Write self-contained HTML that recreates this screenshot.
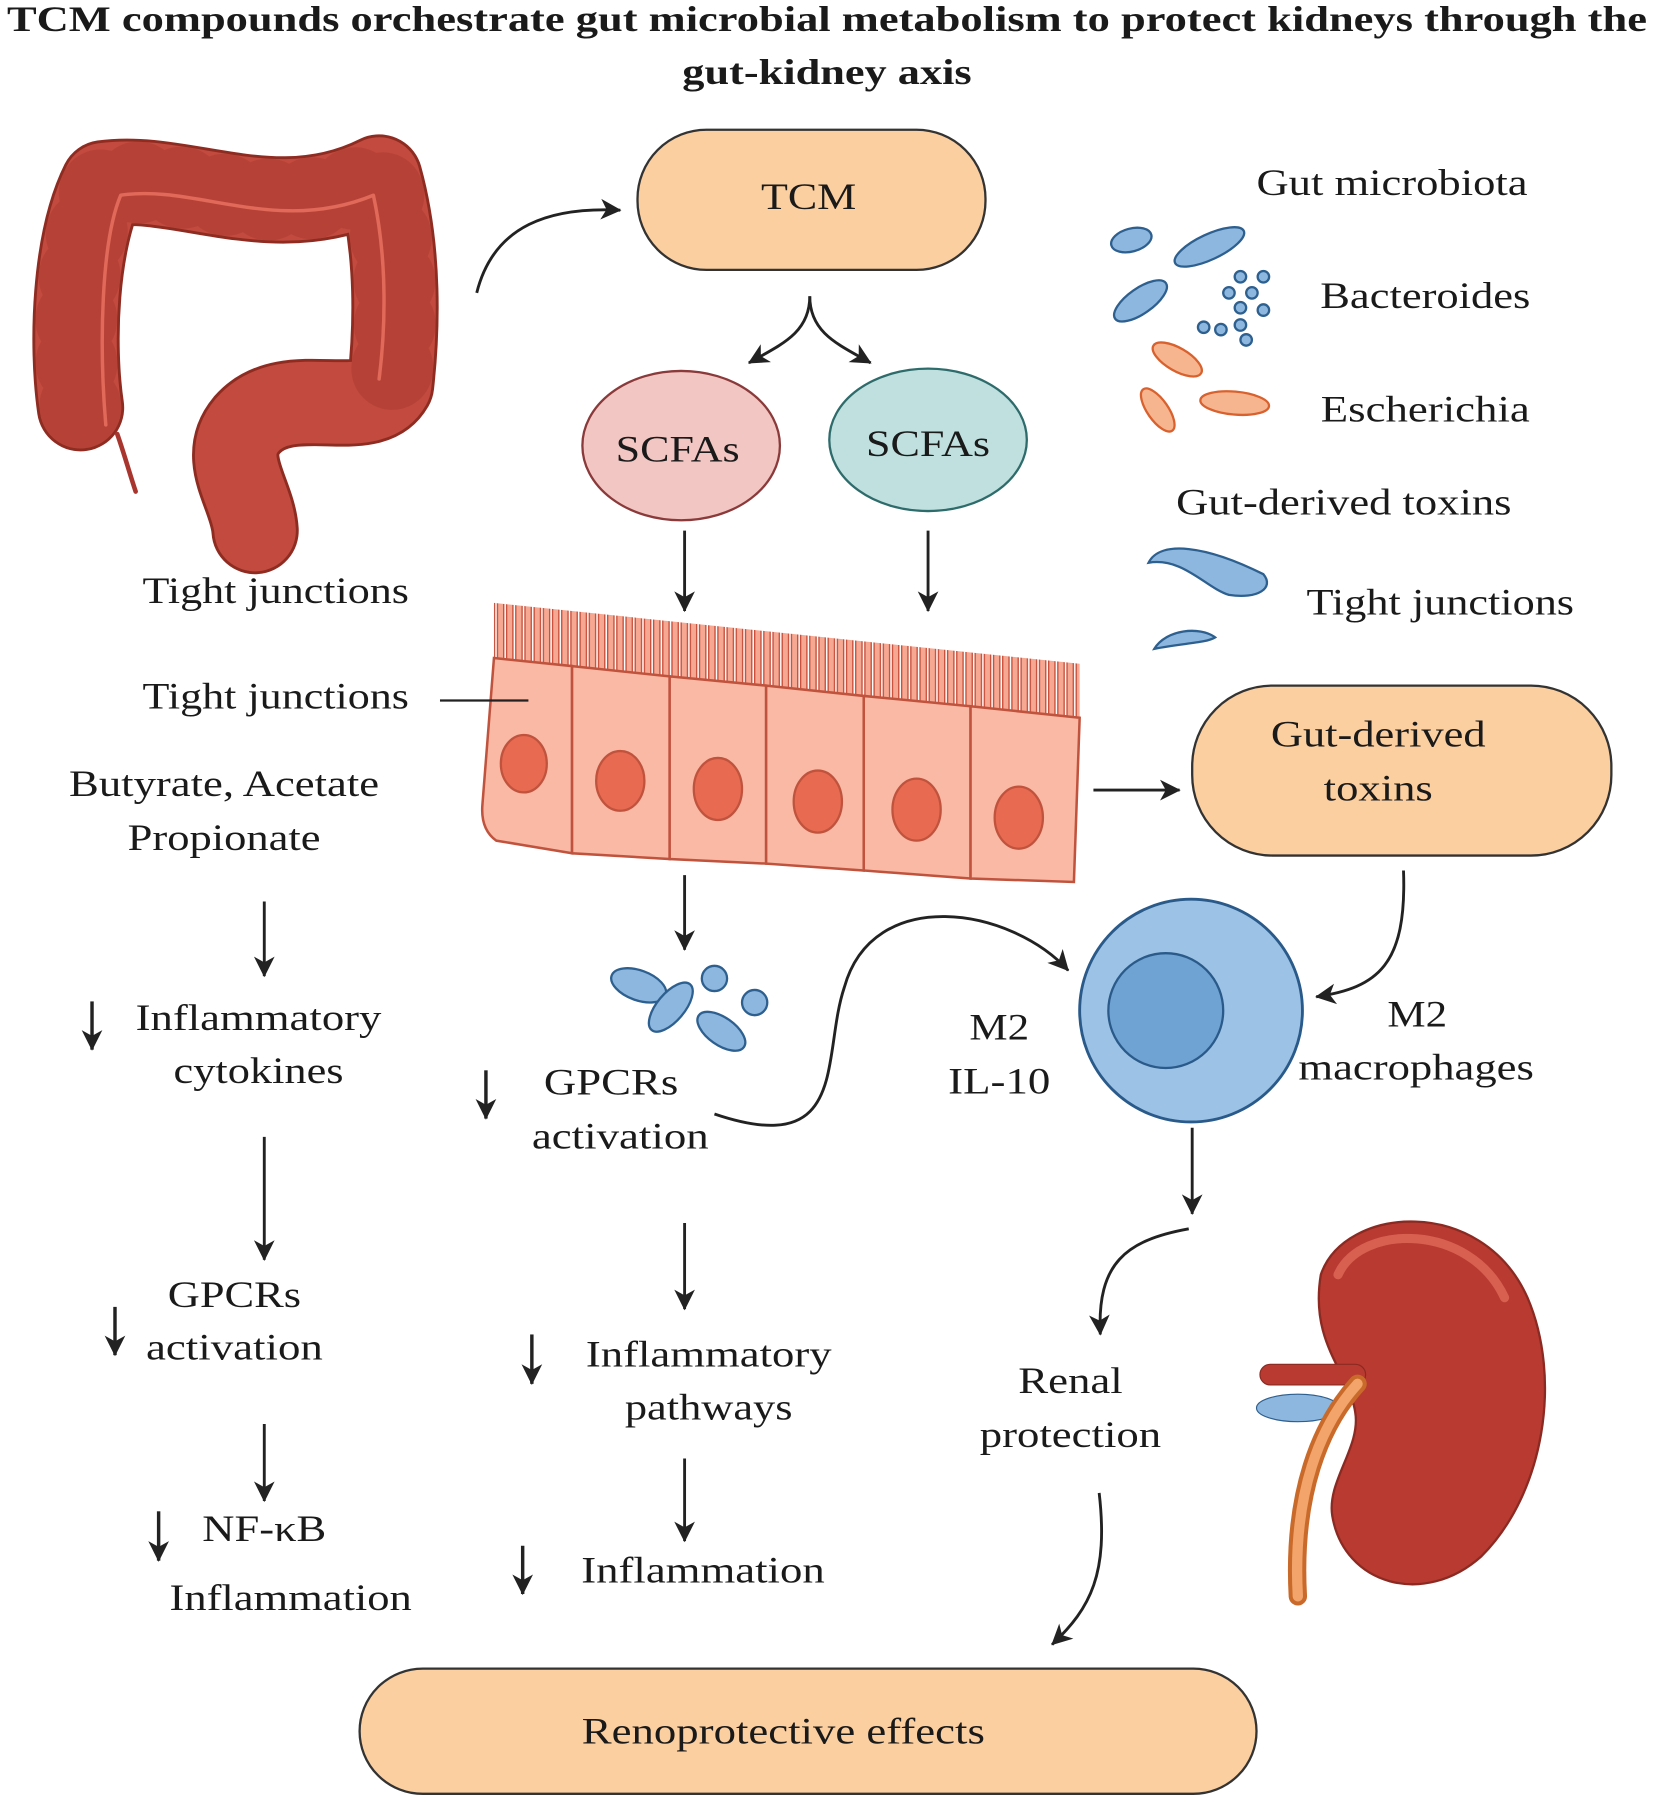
<!DOCTYPE html>
<html><head><meta charset="utf-8">
<style>
html,body{margin:0;padding:0;background:#fff;}
svg{display:block;}
text{font-family:"Liberation Serif",serif;fill:#1a1a1a;}
</style></head>
<body>
<svg width="1654" height="1803" viewBox="0 0 1440 1570" xmlns="http://www.w3.org/2000/svg">
<defs>
<marker id="ah2" markerWidth="22" markerHeight="24" refX="18" refY="11" orient="auto" markerUnits="userSpaceOnUse">
<path d="M1,2 L19,11 L1,20 L6,11 Z" fill="#222"/>
</marker>
<pattern id="mv" width="8" height="80" patternUnits="userSpaceOnUse">
<rect x="1" y="-10" width="5.5" height="120" rx="2.5" fill="#f6a892" stroke="#c8503c" stroke-width="1.2"/>
</pattern>
</defs>
<rect width="1440" height="1570" fill="#fff"/>
<text x="720" y="27" font-size="31" font-weight="bold" text-anchor="middle" textLength="1428" lengthAdjust="spacingAndGlyphs">TCM compounds orchestrate gut microbial metabolism to protect kidneys through the</text>
<text x="720" y="73" font-size="31" font-weight="bold" text-anchor="middle" textLength="252" lengthAdjust="spacingAndGlyphs">gut-kidney axis</text>

<!-- colon -->
<g fill="none" stroke-linecap="round" stroke-linejoin="round">
<path id="colon" d="M70,355 C62,300 65,210 90,160 C160,150 240,200 330,155 C348,220 345,290 340,335 C320,370 250,330 215,370 C190,400 220,430 222,462" stroke="#8e2c22" stroke-width="76"/>
<path d="M70,355 C62,300 65,210 90,160 C160,150 240,200 330,155 C348,220 345,290 340,335 C320,370 250,330 215,370 C190,400 220,430 222,462" stroke="#c24a3e" stroke-width="71"/>
<path d="M70,355 C62,300 65,210 90,160 C160,150 240,200 330,155 C348,220 345,290 340,335" stroke="#a93a30" stroke-width="71" stroke-dasharray="2 36" opacity="0.5"/>
<path d="M92,370 C86,300 88,210 105,170 C170,160 240,205 325,170 C338,230 335,290 330,330" stroke="#e0695a" stroke-width="3"/>
<path d="M102,378 C108,395 112,410 118,428" stroke="#a8362e" stroke-width="4"/>
</g>

<path d="M415,255 C430,195 480,180 540,183" fill="none" stroke="#222" stroke-width="2.5" marker-end="url(#ah2)"/>

<!-- TCM -->
<rect x="555" y="113" width="303" height="122" rx="60" fill="#fbcfa0" stroke="#333" stroke-width="2"/>
<text x="704" y="182" font-size="32" text-anchor="middle" textLength="83" lengthAdjust="spacingAndGlyphs">TCM</text>
<path d="M705,258 C705,290 680,300 652,316" fill="none" stroke="#222" stroke-width="2.5" marker-end="url(#ah2)"/>
<path d="M705,258 C705,290 730,300 758,316" fill="none" stroke="#222" stroke-width="2.5" marker-end="url(#ah2)"/>

<ellipse cx="593" cy="388" rx="86" ry="65" fill="#f2c6c2" stroke="#8a3a3a" stroke-width="2"/>
<text x="590" y="402" font-size="32" text-anchor="middle" textLength="108" lengthAdjust="spacingAndGlyphs">SCFAs</text>
<ellipse cx="808" cy="383" rx="86" ry="62" fill="#bfe0df" stroke="#2e6b6b" stroke-width="2"/>
<text x="808" y="397" font-size="32" text-anchor="middle" textLength="108" lengthAdjust="spacingAndGlyphs">SCFAs</text>
<line x1="596" y1="462" x2="596" y2="532" stroke="#222" stroke-width="2.5" marker-end="url(#ah2)"/>
<line x1="808" y1="462" x2="808" y2="532" stroke="#222" stroke-width="2.5" marker-end="url(#ah2)"/>

<!-- epithelium -->
<polygon points="430,525 940,578 940,626 430,574" fill="url(#mv)"/>
<g stroke="#c0533e" stroke-width="2.2" fill="#f9b9a4">
<path d="M430,573 L498,580 L498,743 L432,732 Q418,722 420,700 Z"/>
<path d="M498,580 L583,589 L583,748 L498,743 Z"/>
<path d="M583,589 L667,597 L667,752 L583,748 Z"/>
<path d="M667,597 L752,606 L752,758 L667,752 Z"/>
<path d="M752,606 L845,615 L845,765 L752,758 Z"/>
<path d="M845,615 L940,625 L935,768 L845,765 Z"/>
</g>
<g fill="#e86a50" stroke="#c0533e" stroke-width="2">
<ellipse cx="456" cy="665" rx="20" ry="25"/>
<ellipse cx="540" cy="680" rx="21" ry="26"/>
<ellipse cx="625" cy="687" rx="21" ry="27"/>
<ellipse cx="712" cy="698" rx="21" ry="27"/>
<ellipse cx="798" cy="705" rx="21" ry="27"/>
<ellipse cx="887" cy="712" rx="21" ry="27"/>
</g>

<!-- left column -->
<text x="240" y="525" font-size="32" text-anchor="middle" textLength="232" lengthAdjust="spacingAndGlyphs">Tight junctions</text>
<text x="240" y="617" font-size="32" text-anchor="middle" textLength="232" lengthAdjust="spacingAndGlyphs">Tight junctions</text>
<line x1="383" y1="610" x2="460" y2="610" stroke="#222" stroke-width="2"/>
<text x="195" y="693" font-size="32" text-anchor="middle" textLength="270" lengthAdjust="spacingAndGlyphs">Butyrate, Acetate</text>
<text x="195" y="740" font-size="32" text-anchor="middle" textLength="168" lengthAdjust="spacingAndGlyphs">Propionate</text>
<line x1="230" y1="785" x2="230" y2="850" stroke="#222" stroke-width="2.5" marker-end="url(#ah2)"/>
<line x1="80" y1="872" x2="80" y2="914" stroke="#222" stroke-width="3" marker-end="url(#ah2)"/>
<text x="225" y="897" font-size="32" text-anchor="middle" textLength="214" lengthAdjust="spacingAndGlyphs">Inflammatory</text>
<text x="225" y="943" font-size="32" text-anchor="middle" textLength="148" lengthAdjust="spacingAndGlyphs">cytokines</text>
<line x1="230" y1="990" x2="230" y2="1097" stroke="#222" stroke-width="2.5" marker-end="url(#ah2)"/>
<text x="204" y="1138" font-size="32" text-anchor="middle" textLength="116" lengthAdjust="spacingAndGlyphs">GPCRs</text>
<text x="204" y="1184" font-size="32" text-anchor="middle" textLength="154" lengthAdjust="spacingAndGlyphs">activation</text>
<line x1="100" y1="1138" x2="100" y2="1180" stroke="#222" stroke-width="3" marker-end="url(#ah2)"/>
<line x1="230" y1="1240" x2="230" y2="1307" stroke="#222" stroke-width="2.5" marker-end="url(#ah2)"/>
<line x1="138" y1="1316" x2="138" y2="1359" stroke="#222" stroke-width="3" marker-end="url(#ah2)"/>
<text x="230" y="1342" font-size="32" text-anchor="middle" textLength="108" lengthAdjust="spacingAndGlyphs">NF-κB</text>
<text x="253" y="1402" font-size="32" text-anchor="middle" textLength="211" lengthAdjust="spacingAndGlyphs">Inflammation</text>

<!-- center column -->
<line x1="596" y1="762" x2="596" y2="827" stroke="#222" stroke-width="2.5" marker-end="url(#ah2)"/>
<g fill="#8db7de" stroke="#2d5f8f" stroke-width="2">
<ellipse cx="556" cy="858" rx="25" ry="13" transform="rotate(20 556 858)"/>
<ellipse cx="584" cy="877" rx="26" ry="12" transform="rotate(-50 584 877)"/>
<circle cx="622" cy="852" r="11"/>
<circle cx="657" cy="873" r="11"/>
<ellipse cx="628" cy="898" rx="24" ry="12" transform="rotate(35 628 898)"/>
</g>
<line x1="423" y1="932" x2="423" y2="974" stroke="#222" stroke-width="3" marker-end="url(#ah2)"/>
<text x="532" y="953" font-size="32" text-anchor="middle" textLength="117" lengthAdjust="spacingAndGlyphs">GPCRs</text>
<text x="540" y="1000" font-size="32" text-anchor="middle" textLength="154" lengthAdjust="spacingAndGlyphs">activation</text>
<path d="M622,970 C740,1010 715,920 735,860 C760,770 880,790 930,845" fill="none" stroke="#222" stroke-width="2.5" marker-end="url(#ah2)"/>
<line x1="596" y1="1065" x2="596" y2="1140" stroke="#222" stroke-width="2.5" marker-end="url(#ah2)"/>
<line x1="463" y1="1162" x2="463" y2="1205" stroke="#222" stroke-width="3" marker-end="url(#ah2)"/>
<text x="617" y="1190" font-size="32" text-anchor="middle" textLength="214" lengthAdjust="spacingAndGlyphs">Inflammatory</text>
<text x="617" y="1236" font-size="32" text-anchor="middle" textLength="146" lengthAdjust="spacingAndGlyphs">pathways</text>
<line x1="596" y1="1270" x2="596" y2="1342" stroke="#222" stroke-width="2.5" marker-end="url(#ah2)"/>
<line x1="455" y1="1346" x2="455" y2="1388" stroke="#222" stroke-width="3" marker-end="url(#ah2)"/>
<text x="612" y="1378" font-size="32" text-anchor="middle" textLength="212" lengthAdjust="spacingAndGlyphs">Inflammation</text>

<!-- right top -->
<text x="1212" y="170" font-size="32" text-anchor="middle" textLength="236" lengthAdjust="spacingAndGlyphs">Gut microbiota</text>
<g fill="#8db7de" stroke="#2d5f8f" stroke-width="2">
<ellipse cx="985" cy="209" rx="18" ry="10" transform="rotate(-15 985 209)"/>
<ellipse cx="1053" cy="215" rx="33" ry="11" transform="rotate(-25 1053 215)"/>
<ellipse cx="993" cy="262" rx="27" ry="11" transform="rotate(-35 993 262)"/>
<circle cx="1080" cy="241" r="5"/><circle cx="1100" cy="241" r="5"/><circle cx="1070" cy="255" r="5"/><circle cx="1090" cy="255" r="5"/><circle cx="1080" cy="268" r="5"/><circle cx="1100" cy="270" r="5"/><circle cx="1048" cy="285" r="5"/><circle cx="1063" cy="287" r="5"/><circle cx="1080" cy="283" r="5"/><circle cx="1085" cy="296" r="5"/>
<path d="M1000,490 C1010,470 1050,475 1100,500 C1110,512 1095,522 1070,518 C1050,512 1030,485 1000,490 Z"/>
<path d="M1005,565 C1015,548 1045,545 1058,555 C1050,560 1030,560 1005,565 Z"/>
</g>
<g fill="#f7b58f" stroke="#d8612e" stroke-width="2">
<ellipse cx="1025" cy="313" rx="24" ry="10" transform="rotate(30 1025 313)"/>
<ellipse cx="1008" cy="357" rx="22" ry="9" transform="rotate(55 1008 357)"/>
<ellipse cx="1075" cy="351" rx="30" ry="10" transform="rotate(5 1075 351)"/>
</g>
<text x="1241" y="268" font-size="32" text-anchor="middle" textLength="183" lengthAdjust="spacingAndGlyphs">Bacteroides</text>
<text x="1241" y="367" font-size="32" text-anchor="middle" textLength="182" lengthAdjust="spacingAndGlyphs">Escherichia</text>
<text x="1170" y="448" font-size="32" text-anchor="middle" textLength="292" lengthAdjust="spacingAndGlyphs">Gut-derived toxins</text>
<text x="1254" y="535" font-size="32" text-anchor="middle" textLength="233" lengthAdjust="spacingAndGlyphs">Tight junctions</text>

<line x1="952" y1="688" x2="1027" y2="688" stroke="#222" stroke-width="2.5" marker-end="url(#ah2)"/>
<rect x="1038" y="597" width="365" height="148" rx="70" fill="#fbcfa0" stroke="#333" stroke-width="2"/>
<text x="1200" y="650" font-size="32" text-anchor="middle" textLength="187" lengthAdjust="spacingAndGlyphs">Gut-derived</text>
<text x="1200" y="697" font-size="32" text-anchor="middle" textLength="95" lengthAdjust="spacingAndGlyphs">toxins</text>
<path d="M1222,758 C1225,840 1200,860 1146,868" fill="none" stroke="#222" stroke-width="2.5" marker-end="url(#ah2)"/>

<circle cx="1037" cy="880" r="97" fill="#9cc3e6" stroke="#2a5a8a" stroke-width="2.5"/>
<circle cx="1015" cy="880" r="50" fill="#6fa3d3" stroke="#2a5a8a" stroke-width="2"/>
<text x="870" y="905" font-size="32" text-anchor="middle" textLength="52" lengthAdjust="spacingAndGlyphs">M2</text>
<text x="870" y="952" font-size="32" text-anchor="middle" textLength="89" lengthAdjust="spacingAndGlyphs">IL-10</text>
<text x="1234" y="894" font-size="32" text-anchor="middle" textLength="52" lengthAdjust="spacingAndGlyphs">M2</text>
<text x="1233" y="940" font-size="32" text-anchor="middle" textLength="205" lengthAdjust="spacingAndGlyphs">macrophages</text>
<line x1="1038" y1="982" x2="1038" y2="1057" stroke="#222" stroke-width="2.5" marker-end="url(#ah2)"/>
<path d="M1035,1070 C980,1080 955,1100 958,1162" fill="none" stroke="#222" stroke-width="2.5" marker-end="url(#ah2)"/>
<text x="932" y="1213" font-size="32" text-anchor="middle" textLength="91" lengthAdjust="spacingAndGlyphs">Renal</text>
<text x="932" y="1260" font-size="32" text-anchor="middle" textLength="158" lengthAdjust="spacingAndGlyphs">protection</text>

<!-- kidney -->
<g>
<path d="M1150,1110 C1170,1050 1290,1040 1330,1130 C1360,1200 1345,1300 1290,1355 C1240,1400 1170,1380 1160,1320 C1155,1290 1185,1260 1180,1230 C1175,1195 1140,1170 1150,1110 Z" fill="#b83a30" stroke="#8a2a22" stroke-width="2"/>
<path d="M1165,1110 C1185,1065 1280,1065 1310,1130" fill="none" stroke="#d86050" stroke-width="8" stroke-linecap="round"/>
<rect x="1097" y="1188" width="92" height="18" rx="9" fill="#b83a30" stroke="#8a2a22"/>
<ellipse cx="1130" cy="1226" rx="36" ry="12" fill="#8db7de" stroke="#2d5f8f"/>
<path d="M1182,1205 C1150,1240 1125,1300 1130,1390" fill="none" stroke="#c96a2a" stroke-width="16" stroke-linecap="round"/>
<path d="M1182,1205 C1150,1240 1125,1300 1130,1390" fill="none" stroke="#f2a46a" stroke-width="9" stroke-linecap="round"/>
</g>

<path d="M957,1300 C965,1370 950,1400 916,1432" fill="none" stroke="#222" stroke-width="2.5" marker-end="url(#ah2)"/>
<rect x="313" y="1453" width="781" height="109" rx="55" fill="#fbcfa0" stroke="#333" stroke-width="2"/>
<text x="682" y="1518" font-size="32" text-anchor="middle" textLength="351" lengthAdjust="spacingAndGlyphs">Renoprotective effects</text>
</svg>
</body></html>
